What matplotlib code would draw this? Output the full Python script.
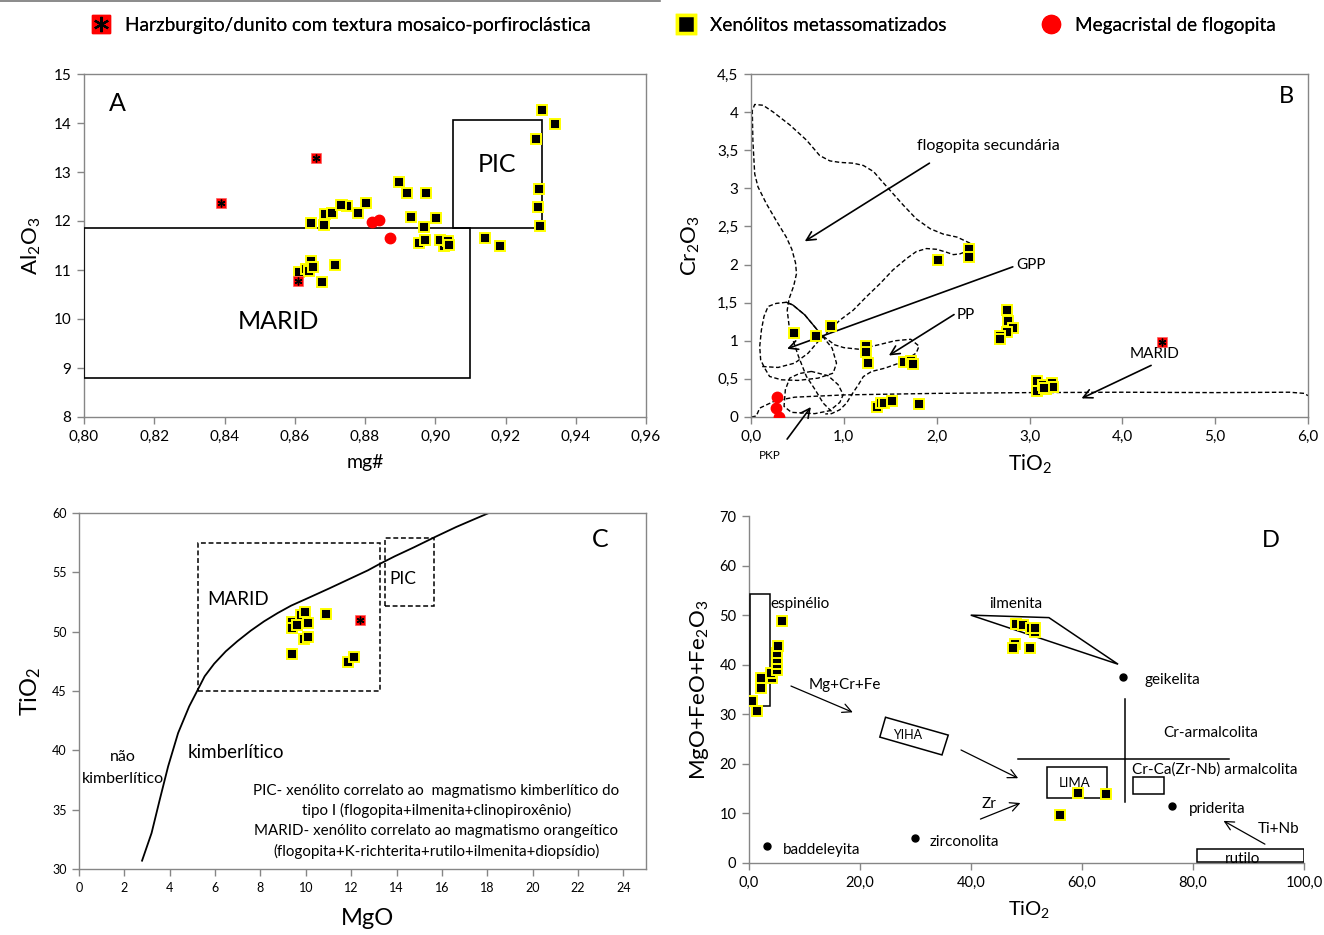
import matplotlib
matplotlib.use('Agg')
import matplotlib.pyplot as plt
from matplotlib.lines import Line2D
from matplotlib.patches import Rectangle, Polygon
from matplotlib.ticker import FuncFormatter, MultipleLocator
from matplotlib.legend_handler import HandlerTuple

plt.rcParams['font.family'] = ['Lato', 'DejaVu Sans']
plt.rcParams['mathtext.fontset'] = 'custom'
plt.rcParams['mathtext.rm'] = 'Lato'
plt.rcParams['mathtext.it'] = 'Lato:italic'
plt.rcParams['mathtext.bf'] = 'Lato:bold'

# ---------------- Panel A data (mg# vs Al2O3) ----------------
a_harz_mg = [0.839, 0.866, 0.861]
a_harz_al = [12.36, 13.28, 10.78]
a_mega_mg = [0.882, 0.884, 0.887]
a_mega_al = [11.97, 12.03, 11.65]
a_xeno_mg = [0.8646, 0.8683, 0.8686, 0.8707, 0.8735, 0.8748, 0.8779, 0.8803, 0.8897, 0.8919,
             0.8973, 0.8932, 0.9002, 0.8968, 0.8954, 0.8970, 0.9026, 0.9014, 0.9036, 0.9039,
             0.9143, 0.9184, 0.9304, 0.9341, 0.9286, 0.9296, 0.9292, 0.9298, 0.8646, 0.8612,
             0.8631, 0.8641, 0.8652, 0.8714, 0.8679, 0.8733]
a_xeno_al = [11.95, 11.91, 12.14, 12.17, 12.33, 12.31, 12.17, 12.36, 12.80, 12.58,
             12.58, 12.08, 12.07, 11.87, 11.55, 11.61, 11.50, 11.62, 11.59, 11.51,
             11.65, 11.50, 14.27, 13.97, 13.67, 12.65, 12.29, 11.90, 11.19, 10.96,
             11.03, 10.98, 11.06, 11.11, 10.75, 12.32]
a_marid_box = (0.80, 8.8, 0.91, 11.85)     # x0, y0, x1, y1
a_pic_box = (0.905, 11.86, 0.9305, 14.07)

# ---------------- Panel B data (TiO2 vs Cr2O3) ----------------
b_harz_ti = [4.43]
b_harz_cr = [0.985]
b_mega_ti = [0.278, 0.27, 0.305]
b_mega_cr = [0.266, 0.122, 0.004]
b_xeno_ti = [0.464, 0.703, 0.862, 2.346, 2.346, 2.011, 1.237, 1.237, 1.264, 1.648,
             1.723, 1.741, 2.753, 2.766, 2.819, 2.753, 2.678, 2.682, 3.076, 3.076,
             3.142, 3.173, 3.239, 3.248, 1.361, 1.396, 1.436, 1.516, 1.812, 3.16]
b_xeno_cr = [1.096, 1.06, 1.19, 2.204, 2.095, 2.06, 0.938, 0.855, 0.707, 0.716,
             0.738, 0.690, 1.401, 1.257, 1.165, 1.117, 1.069, 1.017, 0.476, 0.336,
             0.415, 0.362, 0.450, 0.388, 0.135, 0.188, 0.188, 0.205, 0.170, 0.38]
# field boundaries (TiO2, Cr2O3)
b_flog_sec = [(0.867, 0.074), (0.777, 0.183), (0.69, 0.36), (0.597, 0.532), (0.51, 0.80),
              (0.455, 1.0), (0.41, 1.2), (0.39, 1.40), (0.41, 1.55), (0.46, 1.72),
              (0.49, 1.88), (0.48, 2.02), (0.44, 2.20), (0.38, 2.36), (0.27, 2.58),
              (0.165, 2.80), (0.075, 3.02), (0.04, 3.19), (0.02, 3.63), (0.014, 4.02),
              (0.04, 4.10), (0.13, 4.09), (0.24, 4.0), (0.42, 3.83), (0.6, 3.63),
              (0.74, 3.43), (0.85, 3.36), (0.96, 3.34), (1.10, 3.33), (1.21, 3.30),
              (1.32, 3.22), (1.42, 3.08), (1.53, 2.93), (1.64, 2.78), (1.78, 2.60),
              (1.93, 2.47), (2.07, 2.40), (2.22, 2.36), (2.36, 2.28)]
b_gpp = [(2.36, 2.19), (2.25, 2.14), (2.18, 2.13), (2.11, 2.16), (2.0, 2.20), (1.89, 2.21),
         (1.78, 2.17), (1.677, 2.08), (1.53, 1.93), (1.39, 1.75), (1.245, 1.58), (1.10, 1.40),
         (0.957, 1.27), (0.867, 1.165), (0.723, 0.99), (0.615, 0.837), (0.471, 0.707),
         (0.292, 0.65), (0.112, 0.663)]
b_loop = [(0.381, 1.505), (0.27, 1.49), (0.184, 1.45), (0.14, 1.32), (0.112, 1.14),
          (0.094, 0.925), (0.104, 0.75), (0.148, 0.64), (0.20, 0.532), (0.327, 0.488),
          (0.507, 0.48), (0.723, 0.51), (0.885, 0.575), (0.921, 0.706), (0.874, 0.903),
          (0.759, 1.077), (0.579, 1.34), (0.45, 1.47), (0.381, 1.505)]
b_loop_solid = [(0.381, 1.505), (0.45, 1.47), (0.579, 1.34), (0.759, 1.077)]
b_pkp = [(0.651, 0.598), (0.52, 0.57), (0.417, 0.51), (0.37, 0.357), (0.356, 0.139),
         (0.435, 0.061), (0.687, 0.044), (0.849, 0.083), (0.957, 0.192), (0.993, 0.293),
         (0.939, 0.424), (0.83, 0.542), (0.651, 0.598)]
b_pp = [(0.777, 1.06), (0.903, 0.946), (1.0, 0.91), (1.155, 0.89), (1.37, 0.946),
        (1.55, 1.0), (1.72, 1.02), (1.81, 0.93), (1.78, 0.84), (1.65, 0.73),
        (1.44, 0.64), (1.298, 0.597), (1.21, 0.53), (1.155, 0.42), (1.083, 0.29),
        (1.03, 0.183), (0.957, 0.095), (0.867, 0.044), (0.80, 0.04)]
b_marid = [(0.004, 0.0), (0.057, 0.013), (0.094, 0.117), (0.168, 0.16), (0.256, 0.21),
           (0.47, 0.26), (1.01, 0.29), (2.0, 0.31), (3.0, 0.32), (4.0, 0.325),
           (5.0, 0.32), (5.8, 0.325), (5.96, 0.31), (6.0, 0.28)]

# ---------------- Panel C data (MgO vs TiO2) ----------------
c_harz_mg = [12.40]
c_harz_ti = [51.01]
c_xeno_mg = [9.40, 9.40, 9.59, 9.81, 9.98, 10.11, 9.94, 10.08, 9.37, 10.87, 11.86, 12.13]
c_xeno_ti = [50.79, 50.31, 50.59, 51.43, 51.63, 50.73, 49.38, 49.52, 48.09, 51.52, 47.47, 47.89]
c_curve_mg = [2.78, 3.20, 3.56, 3.93, 4.37, 4.86, 5.20, 5.54, 5.96, 6.47, 6.98, 7.57, 8.16,
              8.76, 9.35, 10.20, 11.04, 11.89, 12.74, 13.25, 13.92, 14.77, 15.70, 16.63,
              17.48, 18.07]
c_curve_ti = [30.70, 33.03, 35.84, 38.65, 41.46, 43.71, 44.97, 46.24, 47.30, 48.34, 49.19,
              50.08, 50.87, 51.57, 52.19, 52.92, 53.65, 54.41, 55.17, 55.70, 56.35, 57.11,
              57.98, 58.82, 59.52, 60.0]
c_marid_box = (5.23, 44.97, 13.25, 57.47)
c_pic_box = (13.5, 52.2, 15.67, 57.9)

# ---------------- Panel D data (TiO2 vs MgO+FeO+Fe2O3) ----------------
d_xeno_ti = [0.59, 1.48, 2.08, 2.15, 4.15, 4.0, 4.97, 4.97, 4.97, 4.97, 5.19, 5.93,
             48.04, 49.44, 50.78, 51.45, 51.6, 47.89, 47.6, 50.7, 59.3, 64.35, 56.04]
d_xeno_sum = [32.75, 30.74, 35.23, 37.38, 37.38, 38.39, 38.93, 40.07, 41.14, 42.42, 43.76, 48.79,
              48.19, 47.92, 47.38, 46.64, 47.45, 44.09, 43.42, 43.42, 14.09, 13.96, 9.66]
d_min_names = ['baddeleyita', 'zirconolita', 'geikelita', 'priderita']
d_min_ti = [3.26, 29.95, 67.38, 76.28]
d_min_sum = [3.36, 5.1, 37.5, 11.4]
d_espinelio_box = (0.15, 31.7, 3.7, 54.36)
d_ilmenita_tri = [(39.96, 50.0), (54.04, 49.5), (66.5, 40.1)]
d_yiha_poly = [(24.6, 29.4), (35.9, 25.8), (34.77, 21.8), (23.57, 25.4)]
d_lima_box = (53.67, 13.1, 64.5, 19.4)
d_crca_box = (69.1, 13.96, 74.8, 17.25)
d_rutilo_box = (80.7, 0.13, 100.0, 2.8)
d_vline = ((67.75, 67.75), (12.3, 33.1))
d_hline = ((48.5, 86.5), (21.0, 21.0))

legend_labels = ['Harzburgito/dunito com textura mosaico-porfiroclástica',
                 'Xenólitos metassomatizados', 'Megacristal de flogopita']

# ---------------- figure ----------------
W, H = 1324, 935
fig = plt.figure(figsize=(W / 100, H / 100), dpi=100)


def add_ax(l, t, r, b):
    return fig.add_axes([l / W, 1 - b / H, (r - l) / W, (b - t) / H])


GREY = '#868686'
YEL = '#FFFF00'
DASH = (0, (3.2, 1.8))


def style(ax, box=True, tick_size=11):
    for s in ['left', 'bottom', 'top', 'right']:
        ax.spines[s].set_color(GREY)
        ax.spines[s].set_linewidth(1.0)
    if not box:
        ax.spines['top'].set_visible(False)
        ax.spines['right'].set_visible(False)
    ax.tick_params(direction='out', length=5, width=1, color=GREY, labelsize=tick_size,
                   top=False, right=False, pad=4)


def comma(dec):
    return FuncFormatter(lambda v, p: f"{v:.{dec}f}".replace('.', ','))


gcomma = FuncFormatter(lambda v, p: f"{v:g}".replace('.', ','))


def xeno(ax, x, y, ms=6.5):
    ax.plot(x, y, 's', ms=ms, mfc='black', mec=YEL, mew=1.4, ls='none', zorder=5)


def harz(ax, x, y, ms=7):
    ax.plot(x, y, 's', ms=ms, mfc='#FF0000', mec='#FF6060', mew=0.5, ls='none', zorder=6)
    ax.plot(x, y, marker=(6, 2, 0), ms=ms * 0.8, mec='black', mew=1.0, ls='none', zorder=7)


def mega(ax, x, y, ms=7.5):
    ax.plot(x, y, 'o', ms=ms, mfc='#FF0000', mec='#FF0000', ls='none', zorder=6)


def rect(ax, b, ls='-', lw=1.2):
    x0, y0, x1, y1 = b
    ax.add_patch(Rectangle((x0, y0), x1 - x0, y1 - y0, fill=False, ec='black', lw=lw, ls=ls, zorder=3))


def curve(ax, pts, ls=DASH, lw=1.0):
    ax.plot([p[0] for p in pts], [p[1] for p in pts], color='black', lw=lw, ls=ls, zorder=2)


def arrow(ax, start, end, lw=1.2):
    ax.annotate('', xy=end, xytext=start, annotation_clip=False,
                arrowprops=dict(arrowstyle='->', color='black', lw=lw, mutation_scale=16,
                                shrinkA=0, shrinkB=0))


# ---- Panel A ----
axA = add_ax(84, 74, 646, 417)
style(axA)
axA.set_xlim(0.80, 0.96)
axA.set_ylim(8, 15)
axA.xaxis.set_major_locator(MultipleLocator(0.02))
axA.yaxis.set_major_locator(MultipleLocator(1))
axA.xaxis.set_major_formatter(comma(2))
rect(axA, a_marid_box)
rect(axA, a_pic_box)
xeno(axA, a_xeno_mg, a_xeno_al)
harz(axA, a_harz_mg, a_harz_al)
mega(axA, a_mega_mg, a_mega_al)
axA.text(0.8072, 14.40, 'A', fontsize=18, ha='left', va='center')
axA.text(0.9175, 13.16, 'PIC', fontsize=18, ha='center', va='center')
axA.text(0.8553, 9.95, 'MARID', fontsize=18, ha='center', va='center')
axA.set_xlabel('mg#', fontsize=14, va='center', ha='center')
axA.xaxis.set_label_coords(0.50, -0.132)
axA.set_ylabel(r'Al$_2$O$_3$', fontsize=16, va='center', ha='center')
axA.yaxis.set_label_coords(-0.094, 0.50)

# ---- Panel B ----
axB = add_ax(751, 74, 1308, 417)
style(axB)
axB.set_xlim(0, 6)
axB.set_ylim(0, 4.5)
axB.xaxis.set_major_locator(MultipleLocator(1))
axB.yaxis.set_major_locator(MultipleLocator(0.5))
axB.xaxis.set_major_formatter(comma(1))
axB.yaxis.set_major_formatter(gcomma)
for pts in [b_flog_sec, b_gpp, b_loop, b_pkp, b_pp, b_marid]:
    curve(axB, pts)
curve(axB, b_loop_solid, ls='-', lw=1.0)
xeno(axB, b_xeno_ti, b_xeno_cr)
harz(axB, b_harz_ti, b_harz_cr)
mega(axB, b_mega_ti, b_mega_cr)
arrow(axB, (1.922, 3.33), (0.579, 2.305))
arrow(axB, (2.82, 1.97), (0.389, 0.895))
arrow(axB, (2.187, 1.344), (1.485, 0.807))
arrow(axB, (4.31, 0.677), (3.56, 0.244))
arrow(axB, (0.389, -0.29), (0.645, 0.131))
axB.text(2.56, 3.55, 'flogopita secundária', fontsize=11.6, ha='center', va='center')
axB.text(2.86, 2.0, 'GPP', fontsize=11, ha='left', va='center')
axB.text(2.22, 1.344, 'PP', fontsize=11, ha='left', va='center')
axB.text(4.35, 0.82, 'MARID', fontsize=11, ha='center', va='center')
axB.text(0.2, -0.51, 'PKP', fontsize=8.5, ha='center', va='center', clip_on=False)
axB.text(5.77, 4.21, 'B', fontsize=17, ha='center', va='center')
axB.set_xlabel(r'TiO$_2$', fontsize=15, va='center', ha='center')
axB.xaxis.set_label_coords(0.50, -0.137)
axB.set_ylabel(r'Cr$_2$O$_3$', fontsize=16, va='center', ha='center')
axB.yaxis.set_label_coords(-0.108, 0.50)

# ---- Panel C ----
axC = add_ax(79, 513, 646, 869)
style(axC, tick_size=9)
axC.set_xlim(0, 25)
axC.set_ylim(30, 60)
axC.set_xticks(range(0, 25, 2))
axC.yaxis.set_major_locator(MultipleLocator(5))
axC.plot(c_curve_mg, c_curve_ti, color='black', lw=1.3, zorder=2)
rect(axC, c_marid_box, ls=DASH, lw=1.1)
rect(axC, c_pic_box, ls=DASH, lw=1.1)
xeno(axC, c_xeno_mg, c_xeno_ti, ms=7.5)
harz(axC, c_harz_mg, c_harz_ti)
axC.text(7.0, 52.7, 'MARID', fontsize=13.5, ha='center', va='center')
axC.text(14.26, 54.4, 'PIC', fontsize=12.5, ha='center', va='center')
axC.text(6.9, 39.8, 'kimberlítico', fontsize=13.5, ha='center', va='center')
axC.text(1.95, 39.4, 'não', fontsize=11.5, ha='center', va='center')
axC.text(1.95, 37.6, 'kimberlítico', fontsize=11.5, ha='center', va='center')
notes = ['PIC- xenólito correlato ao  magmatismo kimberlítico do',
         'tipo I (flogopita+ilmenita+clinopiroxênio)',
         'MARID- xenólito correlato ao magmatismo orangeítico',
         '(flogopita+K-richterita+rutilo+ilmenita+diopsídio)']
for line, yv in zip(notes, [36.6, 34.9, 33.2, 31.5]):
    axC.text(15.75, yv, line, fontsize=10.9, ha='center', va='center')
axC.text(23.0, 57.75, 'C', fontsize=18, ha='center', va='center')
axC.set_xlabel('MgO', fontsize=17, va='center', ha='center')
axC.xaxis.set_label_coords(0.508, -0.14)
axC.set_ylabel(r'TiO$_2$', fontsize=17, va='center', ha='center')
axC.yaxis.set_label_coords(-0.085, 0.50)

# ---- Panel D ----
axD = add_ax(749, 516, 1304, 863)
style(axD, box=False, tick_size=10.5)
axD.set_xlim(0, 100)
axD.set_ylim(0, 70)
axD.xaxis.set_major_locator(MultipleLocator(20))
axD.yaxis.set_major_locator(MultipleLocator(10))
axD.xaxis.set_major_formatter(comma(1))
rect(axD, d_espinelio_box, lw=1.1)
axD.add_patch(Polygon(d_ilmenita_tri, closed=True, fill=False, ec='black', lw=1.1))
axD.add_patch(Polygon(d_yiha_poly, closed=True, fill=False, ec='black', lw=1.1))
rect(axD, d_lima_box, lw=1.1)
rect(axD, d_crca_box, lw=1.1)
rect(axD, d_rutilo_box, lw=1.1)
axD.plot(*d_vline, color='black', lw=1.1)
axD.plot(*d_hline, color='black', lw=1.1)
axD.plot(d_min_ti, d_min_sum, 'o', ms=5, color='black', ls='none', zorder=5)
xeno(axD, d_xeno_ti, d_xeno_sum)
arrow(axD, (7.56, 35.7), (18.7, 30.4), lw=0.9)
arrow(axD, (38.2, 22.8), (48.5, 17.1), lw=0.9)
arrow(axD, (41.7, 8.86), (48.9, 12.1), lw=0.9)
arrow(axD, (92.96, 3.8), (85.5, 8.5), lw=0.9)
fs = 11
axD.text(3.9, 52.2, 'espinélio', fontsize=fs, ha='left', va='center')
axD.text(48.1, 52.2, 'ilmenita', fontsize=fs, ha='center', va='center')
axD.text(71.3, 36.9, 'geikelita', fontsize=fs, ha='left', va='center')
axD.text(17.3, 35.9, 'Mg+Cr+Fe', fontsize=fs, ha='center', va='center')
axD.text(28.5, 25.8, 'YIHA', fontsize=9, ha='center', va='center')
axD.text(83.2, 26.3, 'Cr-armalcolita', fontsize=fs, ha='center', va='center')
axD.text(83.9, 18.8, 'Cr-Ca(Zr-Nb) armalcolita', fontsize=fs, ha='center', va='center')
axD.text(58.7, 16.2, 'LIMA', fontsize=9.5, ha='center', va='center')
axD.text(43.3, 11.9, 'Zr', fontsize=fs, ha='center', va='center')
axD.text(79.3, 10.9, 'priderita', fontsize=fs, ha='left', va='center')
axD.text(95.4, 6.8, 'Ti+Nb', fontsize=fs, ha='center', va='center')
axD.text(88.95, 0.9, 'rutilo', fontsize=fs, ha='center', va='center', clip_on=True)
axD.text(32.6, 4.2, 'zirconolita', fontsize=fs, ha='left', va='center')
axD.text(6.1, 2.55, 'baddeleyita', fontsize=fs, ha='left', va='center')
axD.text(94.1, 65.1, 'D', fontsize=17, ha='center', va='center')
axD.set_xlabel(r'TiO$_2$', fontsize=14.5, va='center', ha='center')
axD.xaxis.set_label_coords(0.505, -0.135)
axD.set_ylabel(r'MgO+FeO+Fe$_2$O$_3$', fontsize=16, va='center', ha='center')
axD.yaxis.set_label_coords(-0.089, 0.50)

# ---- Legend (three entries placed like the original) ----
h_harz = (Line2D([], [], marker='s', ms=13, mfc='#FF0000', mec='#FF0000', ls='none'),
          Line2D([], [], marker=(6, 2, 0), ms=11, mec='black', mew=1.6, ls='none'))
h_xeno = Line2D([], [], marker='s', ms=13, mfc='black', mec=YEL, mew=2.5, ls='none')
h_mega = Line2D([], [], marker='o', ms=13, mfc='#FF0000', mec='#FF0000', ls='none')
legend_handles = [h_harz, h_xeno, h_mega]
legend_x = [90, 675, 1040]
for hnd, lab, lx in zip(legend_handles, legend_labels, legend_x):
    leg = fig.legend([hnd], [lab], handler_map={tuple: HandlerTuple(ndivide=1)},
                     loc='center left', bbox_to_anchor=(lx / W, 1 - 25.5 / H), frameon=False,
                     fontsize=13.7, handlelength=1.2, handletextpad=0.65,
                     borderpad=0, borderaxespad=0)
    fig.add_artist(leg)
fig.add_artist(Line2D([0, 660 / W], [1 - 1 / H, 1 - 1 / H], color='#777777', lw=1.2))

fig.savefig('out.png', dpi=100)
